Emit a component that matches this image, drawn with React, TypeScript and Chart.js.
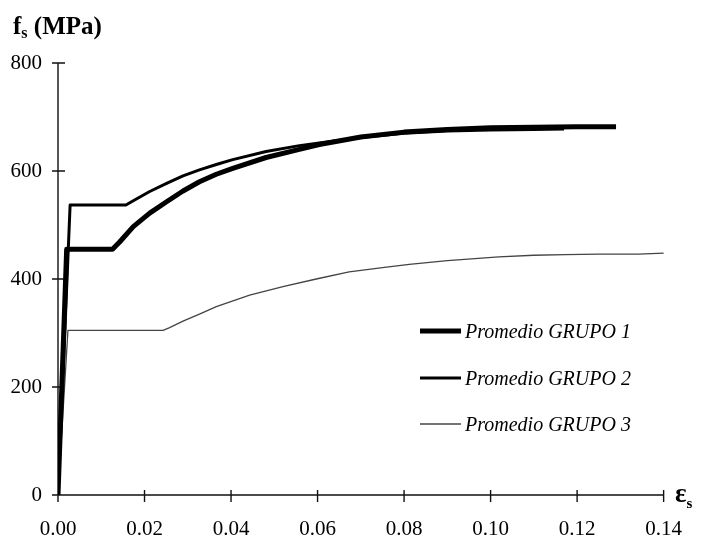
import { useEffect, useRef } from "react";
import { Chart, registerables } from "chart.js";

Chart.register(...registerables);

const seriesLabels = ["Promedio GRUPO 1", "Promedio GRUPO 2", "Promedio GRUPO 3"];

const g1Strain = [0, 0.002, 0.0126, 0.0143, 0.0174, 0.0212, 0.0251, 0.0289, 0.0327, 0.0366, 0.0404, 0.0481, 0.0558, 0.0604, 0.07, 0.08, 0.09, 0.1, 0.11, 0.12, 0.129];
const g1Stress = [0, 455, 455, 469, 497, 522, 543, 563, 580, 594, 605, 625, 640, 649, 663, 672, 677, 680, 681, 682, 682];

const g2Strain = [0, 0.0028, 0.0157, 0.0174, 0.0212, 0.0251, 0.0289, 0.0327, 0.0366, 0.0404, 0.0481, 0.0558, 0.0604, 0.07, 0.08, 0.09, 0.1, 0.11, 0.117];
const g2Stress = [0, 537, 537, 545, 562, 577, 591, 602, 612, 621, 636, 647, 652, 662, 670, 674, 676, 677, 678];

const g3Strain = [0, 0.0023, 0.0243, 0.0258, 0.0289, 0.0327, 0.0366, 0.0443, 0.052, 0.0597, 0.0673, 0.075, 0.0812, 0.09, 0.1019, 0.11, 0.1173, 0.125, 0.1342, 0.1404];
const g3Stress = [0, 305, 305, 310, 322, 335, 349, 370, 386, 400, 413, 421, 427, 434, 441, 444, 445, 446, 446, 448];

const xTickValues = [0, 0.02, 0.04, 0.06, 0.08, 0.1, 0.12, 0.14];
const yTickValues = [0, 200, 400, 600, 800];

const yTitleMain = "f";
const yTitleSub = "s";
const yTitleUnit = " (MPa)";
const xTitleMain = "ε";
const xTitleSub = "s";

const SERIF = '"Liberation Serif", "Times New Roman", serif';

function toPoints(xs: number[], ys: number[]) {
  return xs.map((x, i) => ({ x, y: ys[i] }));
}

const axesPlugin = {
  id: "customAxes",
  beforeDatasetsDraw(chart: any) {
    const ctx = chart.ctx;
    const xs = chart.scales.x;
    const ys = chart.scales.y;
    const x0 = xs.getPixelForValue(xTickValues[0]);
    const x1 = xs.getPixelForValue(xTickValues[xTickValues.length - 1]);
    const y0 = ys.getPixelForValue(yTickValues[0]);
    const y1 = ys.getPixelForValue(yTickValues[yTickValues.length - 1]);
    ctx.save();
    ctx.strokeStyle = "#111";
    ctx.lineWidth = 1.4;
    ctx.beginPath();
    ctx.moveTo(x0, y0);
    ctx.lineTo(x1, y0);
    ctx.moveTo(x0, y0);
    ctx.lineTo(x0, y1);
    for (const v of xTickValues) {
      const px = xs.getPixelForValue(v);
      ctx.moveTo(px, y0 - 5);
      ctx.lineTo(px, y0 + 7);
    }
    for (const v of yTickValues) {
      const py = ys.getPixelForValue(v);
      ctx.moveTo(x0 - 6, py);
      ctx.lineTo(x0 + 7, py);
    }
    ctx.stroke();
    ctx.restore();
  },
  afterDraw(chart: any) {
    const ctx = chart.ctx;
    ctx.save();
    ctx.fillStyle = "#000";
    ctx.textBaseline = "alphabetic";
    ctx.textAlign = "left";
    // y title
    ctx.font = `bold 25px ${SERIF}`;
    let x = 13;
    ctx.fillText(yTitleMain, x, 34);
    x += ctx.measureText(yTitleMain).width;
    ctx.font = `bold 16px ${SERIF}`;
    ctx.fillText(yTitleSub, x, 38);
    x += ctx.measureText(yTitleSub).width;
    ctx.font = `bold 25px ${SERIF}`;
    ctx.fillText(yTitleUnit, x, 34);
    // x title
    ctx.font = `bold 27px ${SERIF}`;
    ctx.fillText(xTitleMain, 675, 502);
    const w = ctx.measureText(xTitleMain).width;
    ctx.font = `bold 15px ${SERIF}`;
    ctx.fillText(xTitleSub, 675 + w, 508);
    // legend
    const baselines = [338, 385, 431];
    chart.data.datasets.forEach((ds: any, i: number) => {
      const by = baselines[i];
      ctx.strokeStyle = ds.borderColor;
      ctx.lineWidth = ds.borderWidth;
      ctx.beginPath();
      ctx.moveTo(420, by - 7);
      ctx.lineTo(461, by - 7);
      ctx.stroke();
      ctx.font = `italic 20px ${SERIF}`;
      ctx.fillStyle = "#000";
      ctx.fillText(ds.label, 465, by);
    });
    ctx.restore();
  },
};

export default function App() {
  const ref = useRef<HTMLCanvasElement | null>(null);
  useEffect(() => {
    if (!ref.current) return;
    const chart = new Chart(ref.current, {
      type: "line",
      data: {
        datasets: [
          {
            label: seriesLabels[0],
            data: toPoints(g1Strain, g1Stress),
            borderColor: "#000",
            borderWidth: 5,
            pointRadius: 0,
            tension: 0,
            borderJoinStyle: "round",
            fill: false,
          },
          {
            label: seriesLabels[1],
            data: toPoints(g2Strain, g2Stress),
            borderColor: "#000",
            borderWidth: 3,
            pointRadius: 0,
            tension: 0,
            borderJoinStyle: "round",
            fill: false,
          },
          {
            label: seriesLabels[2],
            data: toPoints(g3Strain, g3Stress),
            borderColor: "#444",
            borderWidth: 1.3,
            pointRadius: 0,
            tension: 0,
            fill: false,
          },
        ],
      },
      options: {
        animation: false,
        responsive: false,
        devicePixelRatio: 1,
        layout: { padding: { left: 0, right: 39, top: 63, bottom: 0 } },
        plugins: { legend: { display: false }, tooltip: { enabled: false } },
        scales: {
          x: {
            type: "linear",
            min: xTickValues[0],
            max: xTickValues[xTickValues.length - 1],
            grid: { display: false, drawTicks: false },
            border: { display: false },
            afterBuildTicks: (scale: any) => {
              scale.ticks = xTickValues.map((v) => ({ value: v }));
            },
            afterFit: (scale: any) => {
              scale.height = 45;
            },
            ticks: {
              color: "#000",
              font: { family: SERIF, size: 21 },
              padding: 22,
              maxRotation: 0,
              autoSkip: false,
              callback: (v: any) => Number(v).toFixed(2),
            },
          },
          y: {
            type: "linear",
            min: yTickValues[0],
            max: yTickValues[yTickValues.length - 1],
            grid: { display: false, drawTicks: false },
            border: { display: false },
            afterBuildTicks: (scale: any) => {
              scale.ticks = yTickValues.map((v) => ({ value: v }));
            },
            afterFit: (scale: any) => {
              scale.width = 58;
            },
            ticks: {
              color: "#000",
              font: { family: SERIF, size: 21 },
              padding: 16,
              callback: (v: any) => String(v),
            },
          },
        },
      },
      plugins: [axesPlugin],
    } as any);
    return () => chart.destroy();
  }, []);
  return (
    <div style={{ position: "absolute", left: 0, top: 0, width: 704, height: 540, background: "#fff" }}>
      <canvas ref={ref} width={704} height={540} />
    </div>
  );
}
